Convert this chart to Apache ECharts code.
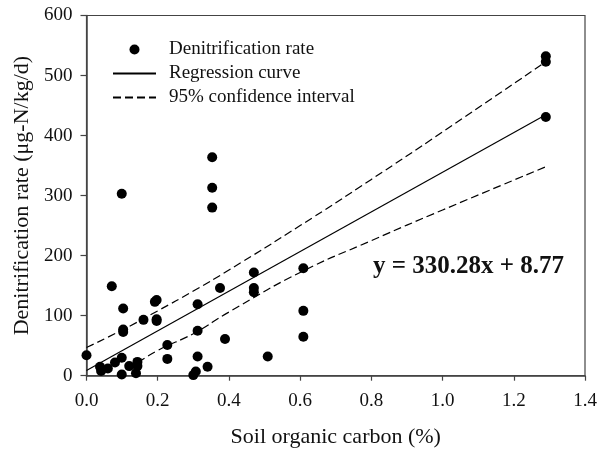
<!DOCTYPE html>
<html>
<head>
<meta charset="utf-8">
<script src="https://cdn.jsdelivr.net/npm/echarts@6/dist/echarts.min.js"></script>
<style>
html,body{margin:0;padding:0;background:#fff;}
#chart{width:599px;height:450px;}
</style>
</head>
<body>
<div id="chart"></div>
<script>
// Soil organic carbon (%) and denitrification rate (µg-N/kg/d)
var socValues = [0.00,0.038,0.041,0.06,0.071,0.08,0.099,0.099,0.099,0.103,0.103,0.103,0.12,0.143,0.143,0.139,0.16,0.192,0.197,0.197,0.197,0.227,0.227,0.30,0.307,0.312,0.312,0.312,0.34,0.353,0.353,0.353,0.375,0.389,0.47,0.47,0.47,0.509,0.609,0.609,0.609,1.29,1.29,1.29];
var rateValues = [34,15,8,12,149,22,30,2,303,112,77,73,16,23,16,4,93,123,126,94,91,51,28,1,7,119,75,32,15,364,313,280,146,61,172,146,139,32,179,108,65,532,523,431];

// Regression line endpoints (y = 330.28x + 8.77)
var regX = [0, 1.29];
var regY = [8.77, 434.8];

// 95% confidence band
var bandX = [0, 0.1, 0.2, 0.3, 0.4, 0.6, 0.8, 1.0, 1.29];
var upperY = [47, 76, 108, 141, 176, 250, 327, 406, 523];
var lowerY = [-29, 5, 42, 70, 106, 172, 225, 276, 348];

var xTicks = [0.0,0.2,0.4,0.6,0.8,1.0,1.2,1.4];
var yTicks = [0,100,200,300,400,500,600];

function zip(a, b){ return a.map(function(v,i){ return [v, b[i]]; }); }

var FONT = 'Liberation Serif';
var chart = echarts.init(document.getElementById('chart'));
chart.setOption({
  animation: false,
  backgroundColor: '#fff',
  grid: {left: 86.5, right: 14, top: 15.5, bottom: 74.3, containLabel: false, outerBoundsMode: 'none', show: true, borderColor: '#444', borderWidth: 1.2, backgroundColor: 'transparent'},
  xAxis: {
    type: 'value', min: 0, max: 1.4, interval: 0.2,
    name: 'Soil organic carbon (%)', nameLocation: 'middle', nameGap: 51,
    nameTextStyle: {fontFamily: FONT, fontSize: 22, color: '#111'},
    axisLine: {show: true, lineStyle: {color: '#444', width: 1.5}},
    axisTick: {show: true, inside: false, length: 5, lineStyle: {color: '#444', width: 1.2}},
    axisLabel: {fontFamily: FONT, fontSize: 19, color: '#111', margin: 16, formatter: function(v){ return v.toFixed(1); }},
    splitLine: {show: false}
  },
  yAxis: {
    type: 'value', min: 0, max: 600, interval: 100,
    name: 'Denitrification rate (\u03bcg-N/kg/d)', nameLocation: 'middle', nameGap: 52,
    nameTextStyle: {fontFamily: FONT, fontSize: 22, color: '#111'},
    axisLine: {show: true, lineStyle: {color: '#444', width: 1.5}},
    axisTick: {show: true, inside: false, length: 6, lineStyle: {color: '#444', width: 1.2}},
    axisLabel: {fontFamily: FONT, fontSize: 19, color: '#111', margin: 14},
    splitLine: {show: false}
  },
  legend: {
    orient: 'vertical', left: 112, top: 40, padding: 0, itemWidth: 43, itemHeight: 10, itemGap: 5,
    textStyle: {fontFamily: FONT, fontSize: 19, color: '#111', padding: [0, 0, 0, 8]},
    data: [
      {name: 'Denitrification rate', icon: 'circle', itemStyle: {color: '#000', opacity: 1}},
      {name: 'Regression curve', itemStyle: {opacity: 0}},
      {name: '95% confidence interval', itemStyle: {opacity: 0}}
    ]
  },
  graphic: [{
    type: 'text', left: 373, top: 254,
    style: {text: 'y = 330.28x + 8.77', fontFamily: FONT, fontSize: 25, fontWeight: 'bold', fill: '#111'}
  }],
  series: [
    {name: 'Denitrification rate', type: 'scatter', data: zip(socValues, rateValues), symbol: 'circle', symbolSize: 10, itemStyle: {color: '#000', opacity: 1}, z: 5},
    {name: 'Regression curve', type: 'line', data: zip(regX, regY), showSymbol: false, symbol: 'none', lineStyle: {color: '#000', width: 1.2}, itemStyle: {color: '#000'}},
    {name: '95% confidence interval', type: 'line', data: zip(bandX, upperY), smooth: true, showSymbol: false, symbol: 'none', lineStyle: {color: '#000', width: 1.2, type: [8, 4]}, itemStyle: {color: '#000'}},
    {name: '95% confidence interval', type: 'line', data: zip(bandX, lowerY), smooth: true, showSymbol: false, symbol: 'none', clip: true, lineStyle: {color: '#000', width: 1.2, type: [8, 4]}, itemStyle: {color: '#000'}}
  ]
});
</script>
</body>
</html>
